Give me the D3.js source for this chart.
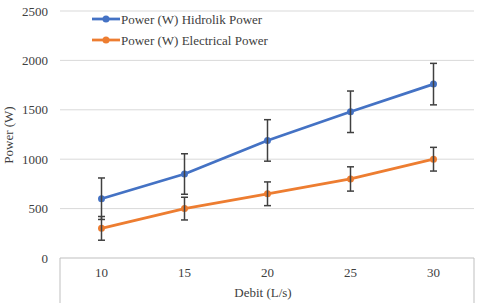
<!DOCTYPE html>
<html>
<head>
<meta charset="utf-8">
<script src="https://cdn.jsdelivr.net/npm/d3@7"></script>
<style>
  body { margin: 0; background: #fff; }
</style>
</head>
<body>
<svg id="chart" width="480" height="303"></svg>
<script>
// chart data
let debit = [10, 15, 20, 25, 30];
let hidrolikPower = [600, 850, 1190, 1480, 1760];
let hidrolikErr = [210, 205, 210, 210, 210];
let electricalPower = [300, 500, 650, 800, 1000];
let electricalErr = [120, 115, 120, 123, 120];
let yTicks = [0, 500, 1000, 1500, 2000, 2500];

let seriesList = [
  { name: 'Power (W) Hidrolik Power', values: hidrolikPower, err: hidrolikErr, color: '#4472C4' },
  { name: 'Power (W) Electrical Power', values: electricalPower, err: electricalErr, color: '#ED7D31' }
];

let fontFamily = "'Liberation Serif', 'DejaVu Serif', serif";
let fontSize = '13px';

let margin = { left: 60, right: 5, top: 11, bottom: 45 },
    width = 480, height = 303;

let svg = d3.select('#chart');

let x = d3.scaleBand()
  .domain(debit)
  .range([margin.left, width - margin.right])
  .padding(0);

let y = d3.scaleLinear()
  .domain([0, 2500])
  .range([height - margin.bottom, margin.top]);

let cx = function (d) { return x(d) + x.bandwidth() / 2; };

// gridlines
svg.append('g')
  .selectAll('line')
  .data(yTicks.slice(1))
  .join('line')
  .attr('x1', margin.left)
  .attr('x2', width - margin.right - 1)
  .attr('y1', d => y(d))
  .attr('y2', d => y(d))
  .attr('stroke', '#d9d9d9')
  .attr('stroke-width', 1);

// y axis labels
let yAxis = d3.axisLeft(y).tickValues(yTicks).tickFormat(d3.format('d')).tickSize(0).tickPadding(12);
svg.append('g')
  .attr('transform', 'translate(' + margin.left + ',0)')
  .call(yAxis)
  .call(g => g.select('.domain').remove())
  .selectAll('text')
  .style('font-family', fontFamily)
  .style('font-size', fontSize)
  .attr('fill', '#404040');

// x axis box
let x0 = margin.left, x1 = width - margin.right - 1, yBase = y(0);
svg.append('path')
  .attr('d', 'M' + x0 + ',' + height + 'V' + yBase + 'H' + x1 + 'V' + height)
  .attr('fill', 'none')
  .attr('stroke', '#bfbfbf')
  .attr('stroke-width', 1);

let xAxis = d3.axisBottom(x).tickSize(0).tickPadding(10);
svg.append('g')
  .attr('transform', 'translate(0,' + yBase + ')')
  .call(xAxis)
  .call(g => g.select('.domain').remove())
  .selectAll('text')
  .style('font-family', fontFamily)
  .style('font-size', fontSize)
  .attr('fill', '#404040');

// axis titles
svg.append('text')
  .attr('x', (x0 + x1) / 2 - 4)
  .attr('y', 297)
  .attr('text-anchor', 'middle')
  .attr('fill', '#404040')
  .style('font-family', fontFamily)
  .style('font-size', fontSize)
  .text('Debit (L/s)');

svg.append('text')
  .attr('transform', 'translate(13,' + 135 + ') rotate(-90)')
  .attr('text-anchor', 'middle')
  .attr('fill', '#404040')
  .style('font-family', fontFamily)
  .style('font-size', fontSize)
  .text('Power (W)');

// series lines
let line = d3.line()
  .x((d, i) => cx(debit[i]))
  .y(d => y(d));

seriesList.forEach(function (s) {
  svg.append('path')
    .datum(s.values)
    .attr('d', line)
    .attr('fill', 'none')
    .attr('stroke', s.color)
    .attr('stroke-width', 2.75)
    .attr('stroke-linejoin', 'round');
});

// markers
seriesList.forEach(function (s) {
  svg.append('g')
    .selectAll('circle')
    .data(s.values)
    .join('circle')
    .attr('cx', (d, i) => cx(debit[i]))
    .attr('cy', d => y(d))
    .attr('r', 3.5)
    .attr('fill', s.color);
});

// error bars
seriesList.forEach(function (s) {
  let g = svg.append('g')
    .attr('stroke', '#404040')
    .attr('stroke-width', 1.5);
  s.values.forEach(function (v, i) {
    let px = cx(debit[i]),
        top = y(v + s.err[i]),
        bot = y(v - s.err[i]);
    g.append('line').attr('x1', px).attr('x2', px).attr('y1', top).attr('y2', bot);
    g.append('line').attr('x1', px - 3.5).attr('x2', px + 3.5).attr('y1', top).attr('y2', top);
    g.append('line').attr('x1', px - 3.5).attr('x2', px + 3.5).attr('y1', bot).attr('y2', bot);
  });
});

// legend
let legend = svg.append('g');
seriesList.forEach(function (s, i) {
  let ly = 19 + i * 21;
  legend.append('line')
    .attr('x1', 92).attr('x2', 120)
    .attr('y1', ly).attr('y2', ly)
    .attr('stroke', s.color)
    .attr('stroke-width', 2.75);
  legend.append('circle')
    .attr('cx', 106).attr('cy', ly)
    .attr('r', 3.5)
    .attr('fill', s.color);
  legend.append('text')
    .attr('x', 121)
    .attr('y', ly + 4.5)
    .attr('fill', '#404040')
    .style('font-family', fontFamily)
    .style('font-size', fontSize)
    .text(s.name);
});
</script>
</body>
</html>
